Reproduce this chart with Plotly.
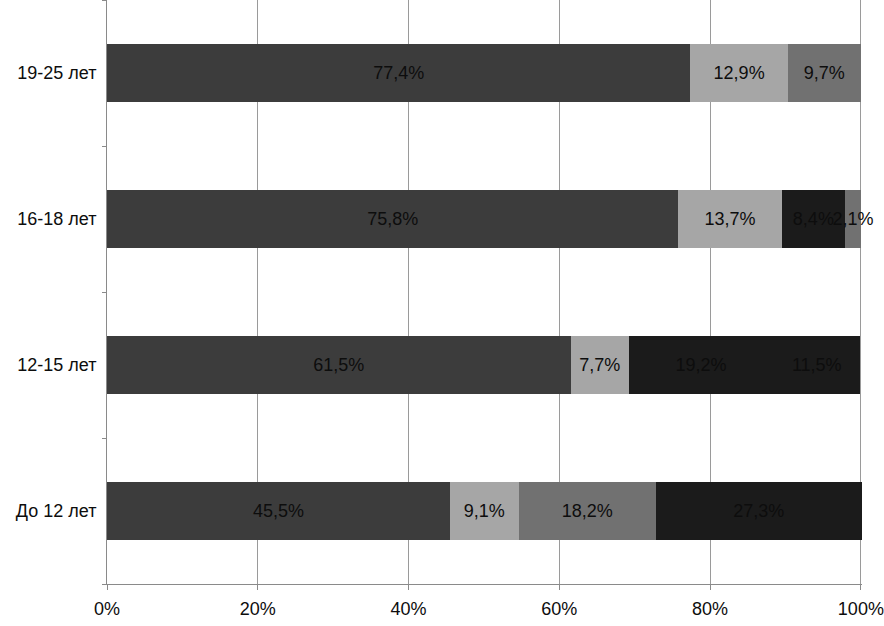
import plotly.graph_objects as go

categories = ["До 12 лет", "12-15 лет", "16-18 лет", "19-25 лет"]
seg1 = [45.5, 61.5, 75.8, 77.4]
seg2 = [9.1, 7.7, 13.7, 12.9]
seg3 = [18.2, 19.2, 8.4, 9.7]
seg4 = [27.3, 11.5, 2.1, 0.0]
x_ticks = [0, 20, 40, 60, 80, 100]
x_tick_text = ["%d%%" % v for v in x_ticks]

DARK = "#3c3c3c"
LIGHT = "#a6a6a6"
MED = "#717171"
BLACK = "#1b1b1b"

seg_colors = [
    [DARK] * 4,
    [LIGHT] * 4,
    [MED, BLACK, BLACK, MED],
    [BLACK, BLACK, MED, MED],
]


def labels(vals):
    return [("%.1f%%" % v).replace(".", ",") if v > 0 else "" for v in vals]


FONT = "Liberation Sans"

fig = go.Figure()
for vals, cols in zip([seg1, seg2, seg3, seg4], seg_colors):
    fig.add_trace(go.Bar(
        y=categories, x=vals, orientation="h",
        marker=dict(color=cols, line=dict(width=0)),
        text=labels(vals), textposition="inside", insidetextanchor="middle",
        textangle=0,
        textfont=dict(color="#0d0d0d", size=18, family=FONT),
        cliponaxis=False, showlegend=False,
    ))

fig.update_layout(
    barmode="stack", bargap=0.6,
    width=884, height=626,
    margin=dict(l=107, r=22, t=0, b=42, autoexpand=False),
    paper_bgcolor="white", plot_bgcolor="white",
    font=dict(family=FONT, size=18, color="#0d0d0d"),
    uniformtext=dict(minsize=18, mode="show"),
    xaxis=dict(
        range=[0, 100.15], tickmode="array", tickvals=x_ticks, ticktext=x_tick_text,
        showgrid=True, gridcolor="#9a9a9a", gridwidth=1,
        showline=True, linecolor="#8a8a8a", linewidth=1,
        ticks="outside", ticklen=5, tickcolor="#8a8a8a",
        zeroline=False, ticklabelstandoff=3, automargin=False,
    ),
    yaxis=dict(
        categoryorder="array", categoryarray=categories,
        showline=True, linecolor="#8a8a8a", linewidth=1,
        ticks="outside", ticklen=4, tickcolor="#8a8a8a",
        tickson="boundaries", showgrid=False,
        ticklabelstandoff=6, automargin=False,
    ),
)

fig.write_html(
    "out.html",
    config={"displayModeBar": False},
    post_script="document.body.style.margin='0';document.body.style.overflow='hidden';",
)
